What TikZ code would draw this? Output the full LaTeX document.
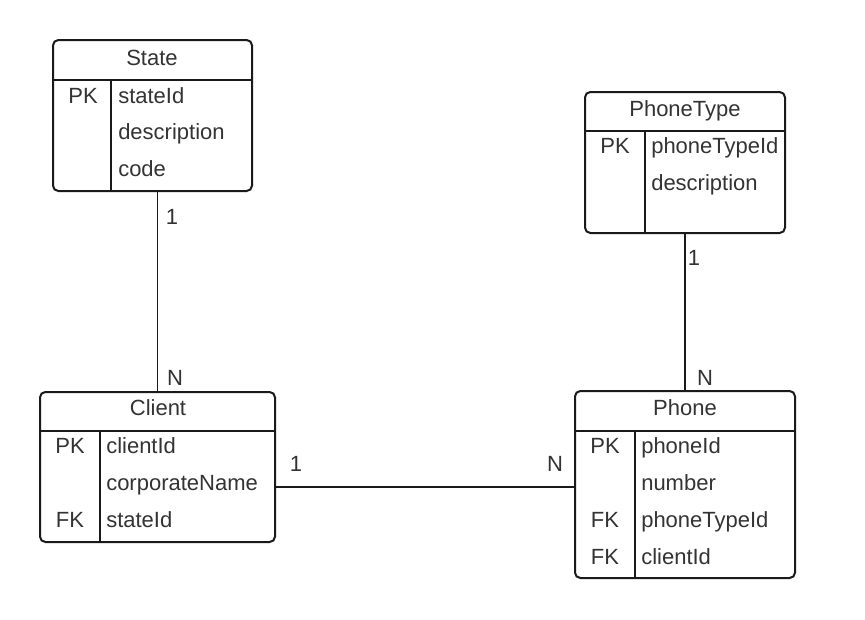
\documentclass[tikz,border=0pt]{standalone}
\usepackage{fontspec}
\setmainfont{Liberation Sans}
\usetikzlibrary{fit,calc}
\definecolor{txt}{HTML}{333333}
\definecolor{ln}{HTML}{1A1A1A}
\begin{document}
\begin{tikzpicture}[x=0.75pt,y=-0.75pt,
  tbl/.style={draw=ln,line width=1.5pt,rounded corners=4pt,inner sep=0pt,fill=white},
  sep/.style={draw=ln,line width=1.5pt},
  conn/.style={draw=ln,line width=0.8pt},
  lbl/.style={text=txt,font=\fontsize{16.5}{19}\selectfont,inner sep=0pt,text height=11.8pt,text depth=0pt},
  fld/.style={lbl,anchor=west},
  card/.style={lbl}]
\useasboundingbox[fill=white] (0,0) rectangle (865,619);

% State
\coordinate (s1) at (53,40); \coordinate (s2) at (252,191);
\node[tbl,fit=(s1)(s2)] (state) {};
\draw[sep] (state.west |- 0,80) -- (state.east |- 0,80);
\draw[sep] (111,80) -- (111,191);
\node[lbl] (stateH) at (152,58) {State};
\node[lbl] (statePK) at (83,96) {PK};
\node[fld] (stateF1) at (118,96) {stateId};
\node[fld] (stateF2) at (118,132) {description};
\node[fld] (stateF3) at (118,169) {code};

% PhoneType
\coordinate (t1) at (585,92); \coordinate (t2) at (785,233);
\node[tbl,fit=(t1)(t2)] (ptype) {};
\draw[sep] (ptype.west |- 0,131) -- (ptype.east |- 0,131);
\draw[sep] (645,131) -- (645,233);
\node[lbl] (ptypeH) at (685,109) {PhoneType};
\node[lbl] (ptypePK) at (615,146) {PK};
\node[fld] (ptypeF1) at (651,146) {phoneTypeId};
\node[fld] (ptypeF2) at (651,183) {description};

% Client
\coordinate (c1) at (40,392); \coordinate (c2) at (275,542);
\node[tbl,fit=(c1)(c2)] (client) {};
\draw[sep] (client.west |- 0,431) -- (client.east |- 0,431);
\draw[sep] (100,431) -- (100,542);
\node[lbl] (clientH) at (158,408) {Client};
\node[lbl] (clientPK) at (70,446) {PK};
\node[lbl] (clientFK) at (70,520) {FK};
\node[fld] (clientF1) at (106,446) {clientId};
\node[fld] (clientF2) at (106,483) {corporateName};
\node[fld] (clientF3) at (106,520) {stateId};

% Phone
\coordinate (p1) at (575,391); \coordinate (p2) at (795,578);
\node[tbl,fit=(p1)(p2)] (phone) {};
\draw[sep] (phone.west |- 0,431) -- (phone.east |- 0,431);
\draw[sep] (635,431) -- (635,578);
\node[lbl] (phoneH) at (685,408) {Phone};
\node[lbl] (phonePK) at (605,446) {PK};
\node[lbl] (phoneFK1) at (605,520) {FK};
\node[lbl] (phoneFK2) at (605,557) {FK};
\node[fld] (phoneF1) at (641,446) {phoneId};
\node[fld] (phoneF2) at (641,483) {number};
\node[fld] (phoneF3) at (641,520) {phoneTypeId};
\node[fld] (phoneF4) at (641,557) {clientId};

% connectors
\draw[conn] (client.north) -- (client.north |- state.south);
\draw[conn] (phone.north) -- (phone.north |- ptype.south);
\coordinate (hline) at (0,487);
\draw[conn] (client.east |- hline) -- (phone.west |- hline);

% cardinalities
\node[card] (c1a) at (172,217) {1};
\node[card] (c1b) at (175,378) {N};
\node[card] (c2a) at (694,258) {1};
\node[card] (c2b) at (705,378) {N};
\node[card] (c3a) at (296,464) {1};
\node[card] (c3b) at (555,464) {N};
\end{tikzpicture}
\end{document}
